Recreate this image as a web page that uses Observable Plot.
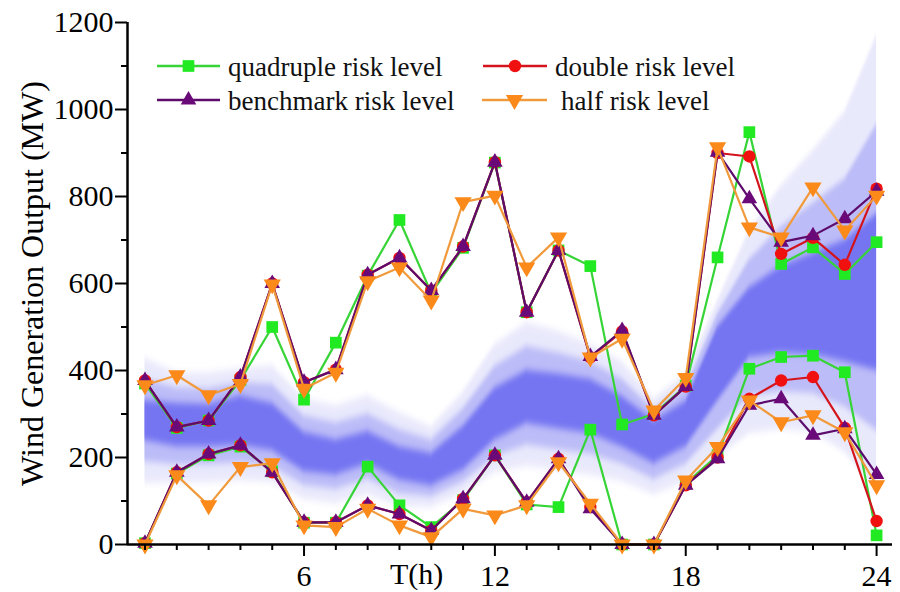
<!DOCTYPE html>
<html><head><meta charset="utf-8">
<script src="https://cdn.jsdelivr.net/npm/d3@7"></script>
<script src="https://cdn.jsdelivr.net/npm/@observablehq/plot@0.6"></script>
<style>
html,body{margin:0;padding:0;background:#fff;}
#wrap{position:relative;width:900px;height:592px;font-family:'Liberation Serif',serif;}
#wrap svg text{font-family:'Liberation Serif',serif;}
#overlay{position:absolute;left:0;top:0;pointer-events:none;}
</style></head><body><div id="wrap"></div>
<script>
// ---- data ----
const hours = [1,2,3,4,5,6,7,8,9,10,11,12,13,14,15,16,17,18,19,20,21,22,23,24];
const majorHours = [6,12,18,24];
const minorHours = [1,2,3,4,5,7,8,9,10,11,13,14,15,16,17,19,20,21,22,23];
const yMajor = [0,200,400,600,800,1000,1200];
const yMinor = [100,300,500,700,900,1100];

// forecast fan band (MW)
const outerHi = [428,395,395,404,411,335,319,342,303,270,350,460,510,490,460,420,335,392,560,722,825,906,995,1170];
const midHi   = [380,360,358,372,368,296,280,300,264,240,312,410,455,440,420,380,310,360,530,655,730,785,840,965];
const coreHi  = [331,325,322,342,324,258,241,260,225,210,272,360,400,392,380,340,285,330,500,590,640,670,700,760];
const coreLo  = [239,225,225,228,216,168,160,185,148,135,171,240,278,266,255,224,186,225,330,430,440,436,420,400];
const midLo   = [190,184,184,188,180,136,127,150,117,110,144,202,229,218,208,185,150,185,265,342,352,347,316,262];
const outerLo = [140,142,142,147,143,104,94,115,86,85,117,165,180,170,160,145,115,145,200,255,265,258,212,125];

// risk-level schedules: upper and lower bounds (MW)
const quadUpper  = [370,268,285,378,500,333,464,618,746,578,682,878,534,676,640,276,300,365,660,948,645,683,622,695];
const quadLower  = [3,163,205,225,168,50,50,179,90,40,102,205,92,86,264,0,0,140,205,404,431,434,396,21];
const doubleUpper= [377,270,285,385,600,373,402,620,659,584,685,879,534,676,430,490,297,363,900,892,668,705,643,818];
const doubleLower= [3,166,208,228,166,51,51,90,70,32,105,205,97,197,86,0,0,136,200,335,377,385,268,54];
const benchUpper = [377,270,285,385,600,373,402,620,659,584,685,879,534,676,432,492,297,363,902,795,695,710,749,812];
const benchLower = [3,166,208,228,166,51,51,90,70,32,105,205,97,197,82,0,0,136,197,320,335,251,266,161];
const halfUpper  = [366,389,343,369,598,358,395,605,637,561,787,802,637,706,430,473,308,383,913,729,706,821,722,802];
const halfLower  = [0,159,90,178,187,44,40,82,44,17,82,67,90,189,94,0,0,147,224,331,281,297,258,136];

const seriesNames = ["quadruple risk level","double risk level","benchmark risk level","half risk level"];

// ---- build ----
const FONT = "Liberation Serif, serif";
const sqrt3 = Math.sqrt(3);
const triangleDown = {draw(context, size){
  const y = -Math.sqrt(size / (sqrt3 * 3));
  context.moveTo(0, -y * 2);
  context.lineTo(-sqrt3 * y, y);
  context.lineTo(sqrt3 * y, y);
  context.closePath();
}};

const series = [
  {name: seriesNames[0], upper: quadUpper,   lower: quadLower,   line: "#36d436", fill: "#22ea22", symbol: "square",   r: 6.6},
  {name: seriesNames[1], upper: doubleUpper, lower: doubleLower, line: "#d4141c", fill: "#f01010", symbol: "circle",   r: 6.2},
  {name: seriesNames[2], upper: benchUpper,  lower: benchLower,  line: "#5e0c6c", fill: "#6a0a78", symbol: "triangle", r: 5.8},
  {name: seriesNames[3], upper: halfUpper,   lower: halfLower,   line: "#f09a3c", fill: "#fb8a1a", symbol: triangleDown, r: 6.4}
];

const band = hours.map((h, i) => ({hour: h, oHi: outerHi[i], oLo: outerLo[i], mHi: midHi[i], mLo: midLo[i], cHi: coreHi[i], cLo: coreLo[i]}));

const xDomain = [0.45, 24.5];
const marks = [
  Plot.areaY(band, {x: "hour", y1: "oLo", y2: "oHi", fill: "#e9e9fc", className: "fan"}),
  Plot.areaY(band, {x: "hour", y1: "mLo", y2: "mHi", fill: "#bcbcf8", className: "fan"}),
  Plot.areaY(band, {x: "hour", y1: "cLo", y2: "cHi", fill: "#7575f2", className: "fan"})
];
for (const s of series) {
  const rows = [];
  hours.forEach((h, i) => rows.push({hour: h, value: s.upper[i], bound: "upper"}));
  hours.forEach((h, i) => rows.push({hour: h, value: s.lower[i], bound: "lower"}));
  marks.push(Plot.line(rows, {x: "hour", y: "value", z: "bound", stroke: s.line, strokeWidth: 2.2}));
  marks.push(Plot.dot(rows, {x: "hour", y: "value", symbol: s.symbol, r: s.r, fill: s.fill, stroke: "none"}));
}
marks.push(
  Plot.axisY({ticks: yMajor, tickSize: 12, tickPadding: 2, strokeWidth: 2, fontSize: 30, tickFormat: d3.format("d"),
    label: "Wind Generation Output (MW)", labelAnchor: "center", labelOffset: 107, labelArrow: "none"}),
  Plot.axisY({ticks: yMinor, tickSize: 6, strokeWidth: 2, tickFormat: () => "", label: null}),
  Plot.axisX({ticks: majorHours, tickSize: 12, tickPadding: 8, strokeWidth: 2, fontSize: 30, tickFormat: d3.format("d"), label: null}),
  Plot.axisX({ticks: minorHours, tickSize: 6, strokeWidth: 2, tickFormat: () => "", label: null}),
  Plot.ruleY([0], {stroke: "#000", strokeWidth: 2.5}),
  Plot.ruleX([xDomain[0]], {stroke: "#000", strokeWidth: 2.5})
);

const chart = Plot.plot({
  width: 900, height: 592,
  marginLeft: 127, marginRight: 8, marginTop: 22, marginBottom: 48,
  x: {domain: xDomain},
  y: {domain: [0, 1200]},
  style: {fontFamily: FONT, fontSize: "30px", color: "#000", background: "transparent"},
  marks
});
const wrap = document.getElementById("wrap");
wrap.appendChild(chart);

// soft vertical blending of the fan layers
const svg = d3.select(chart);
const defs = svg.insert("defs", ":first-child");
defs.append("filter").attr("id", "vblur").attr("x", "-5%").attr("y", "-20%").attr("width", "110%").attr("height", "140%")
  .append("feGaussianBlur").attr("stdDeviation", "0 3.5");
svg.selectAll(".fan").attr("filter", "url(#vblur)");
svg.selectAll("text").attr("font-family", FONT);
svg.selectAll('[aria-label="y-axis label"]').attr("font-size", 32);

// ---- legend + x label overlay ----
const ov = d3.select(wrap).append("svg").attr("id", "overlay").attr("width", 900).attr("height", 592);
const legendPos = [
  {x0: 157, x1: 220, y: 66, tx: 228},
  {x0: 483, x1: 547, y: 66, tx: 555},
  {x0: 157, x1: 220, y: 100, tx: 228},
  {x0: 482, x1: 547, y: 100, tx: 561}
];
series.forEach((s, i) => {
  const p = legendPos[i];
  ov.append("line").attr("x1", p.x0).attr("x2", p.x1).attr("y1", p.y).attr("y2", p.y)
    .attr("stroke", s.line).attr("stroke-width", 2.5);
  const sym = typeof s.symbol === "string"
    ? {square: d3.symbolSquare, circle: d3.symbolCircle, triangle: d3.symbolTriangle}[s.symbol]
    : s.symbol;
  ov.append("path").attr("d", d3.symbol(sym, Math.PI * s.r * s.r)())
    .attr("transform", `translate(${(p.x0 + p.x1) / 2},${p.y})`).attr("fill", s.fill);
  ov.append("text").attr("x", p.tx).attr("y", p.y + 10).attr("font-size", 27).attr("font-family", FONT)
    .attr("fill", "#111").text(s.name);
});
ov.append("text").attr("x", 390).attr("y", 584).attr("font-size", 30).attr("font-family", FONT).attr("fill", "#000").text("T(h)");
</script></body></html>
